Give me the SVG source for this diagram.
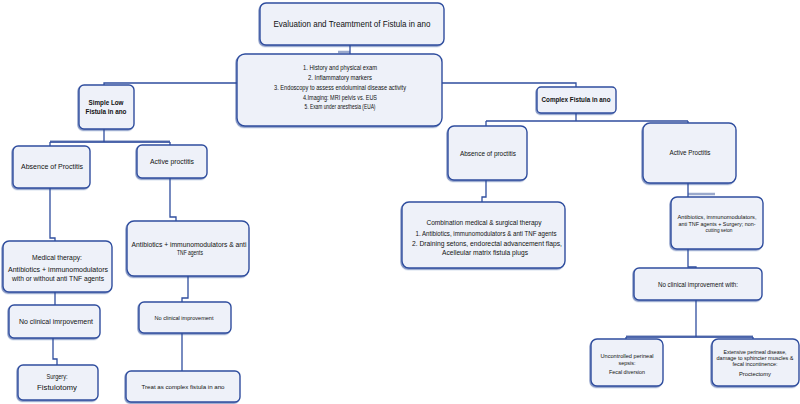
<svg xmlns="http://www.w3.org/2000/svg" width="800" height="404" viewBox="0 0 800 404">
<defs>
<filter id="sh" x="-10%" y="-10%" width="120%" height="130%">
<feDropShadow dx="-1" dy="1.2" stdDeviation="0.7" flood-color="#2b4796" flood-opacity="0.55"/>
</filter>
</defs>
<style>
.box{fill:#eef1f9;stroke:#2f4d9e;stroke-width:1.4;filter:url(#sh)}
.c{fill:none;stroke:#2f4d9e;stroke-width:1.3}
.bar{fill:none;stroke:#9aa9cc;stroke-width:2.5}
text{font-family:"Liberation Sans",Arial,sans-serif;fill:#111111;text-anchor:middle}
.t9{font-size:9px}
.t7{font-size:7.6px}
.t7s{font-size:7px}
.t6{font-size:6.5px}
.t5{font-size:5.9px}
.b{font-weight:bold}
</style>
<rect width="800" height="404" fill="#ffffff"/>
<g id="connectors">
<path class="bar" d="M338,52 H350"/>
<path class="bar" d="M50,141.5 H170"/>
<path class="bar" d="M688,194 H715"/>
<path class="bar" d="M626,336.5 H753"/>
<path class="c" d="M350,45 V54"/>
<path class="c" d="M237,83 H104 V85"/>
<path class="c" d="M442,83 H576 V87"/>
<path class="c" d="M104,129 V142"/>
<path class="c" d="M50,142 H170"/>
<path class="c" d="M50,142 V146"/>
<path class="c" d="M170,142 V145"/>
<path class="c" d="M50,188 V238 H55 V242"/>
<path class="c" d="M55,292 V305"/>
<path class="c" d="M53,338 V359 H57 V365"/>
<path class="c" d="M170,178 V217 H176 V222"/>
<path class="c" d="M188,276 V298 H182 V302"/>
<path class="c" d="M182,333 V371"/>
<path class="c" d="M576,113 V121"/>
<path class="c" d="M486,121 H688"/>
<path class="c" d="M486,121 V126"/>
<path class="c" d="M688,121 V123"/>
<path class="c" d="M486,180 V197 H482 V202"/>
<path class="c" d="M688,183 V197"/>
<path class="c" d="M688,249 V267 H696 V268"/>
<path class="c" d="M696,300 V337"/>
<path class="c" d="M626,337 H753"/>
<path class="c" d="M626,337 V339"/>
<path class="c" d="M753,337 V339"/>
</g>
<g id="title">
<rect class="box" x="260" y="3" width="184" height="42" rx="6"/>
<text class="t9" x="352" y="27" textLength="157" lengthAdjust="spacingAndGlyphs">Evaluation and Treamtment of Fistula in ano</text>
</g>
<g id="evaluation">
<rect class="box" x="237" y="54" width="205" height="72" rx="8"/>
<text class="t6" x="340" y="70" textLength="74" lengthAdjust="spacingAndGlyphs">1. History and physical exam</text>
<text class="t6" x="340" y="80" textLength="64" lengthAdjust="spacingAndGlyphs">2. Inflammatory markers</text>
<text class="t6" x="340" y="90" textLength="132" lengthAdjust="spacingAndGlyphs">3. Endoscopy to assess endoluminal  disease activity</text>
<text class="t6" x="340" y="100" textLength="74" lengthAdjust="spacingAndGlyphs">4.Imaging: MRI pelvis vs. EUS</text>
<text class="t6" x="340" y="109" textLength="71" lengthAdjust="spacingAndGlyphs">5. Exam under anesthesia (EUA)</text>
</g>
<g id="simple-low">
<rect class="box" x="79" y="85" width="55" height="44" rx="5"/>
<text class="t7 b" x="106" y="105" textLength="35" lengthAdjust="spacingAndGlyphs">Simple Low</text>
<text class="t7 b" x="106" y="114" textLength="41" lengthAdjust="spacingAndGlyphs">Fistula in ano</text>
</g>
<g id="complex">
<rect class="box" x="537" y="87" width="79" height="26" rx="4"/>
<text class="t7 b" x="576" y="102" textLength="69" lengthAdjust="spacingAndGlyphs">Complex Fistula in ano</text>
</g>
<g id="absence-left">
<rect class="box" x="13" y="146" width="77" height="42" rx="5"/>
<text class="t7" x="52" y="169" textLength="62" lengthAdjust="spacingAndGlyphs">Absence of Proctitis</text>
</g>
<g id="active-left">
<rect class="box" x="137" y="145" width="70" height="33" rx="5"/>
<text class="t7" x="172" y="164" textLength="44" lengthAdjust="spacingAndGlyphs">Active proctitis</text>
</g>
<g id="medical-therapy">
<rect class="box" x="3" y="241" width="109" height="51" rx="6"/>
<text class="t7" x="57" y="260" textLength="50" lengthAdjust="spacingAndGlyphs">Medical therapy:</text>
<text class="t7" x="58" y="272" textLength="100" lengthAdjust="spacingAndGlyphs">Antibiotics + immunomodulators</text>
<text class="t7" x="58" y="281" textLength="92" lengthAdjust="spacingAndGlyphs">with or without anti TNF agents</text>
</g>
<g id="no-improvement-left">
<rect class="box" x="9" y="305" width="91" height="33" rx="5"/>
<text class="t7" x="56" y="324" textLength="74" lengthAdjust="spacingAndGlyphs">No clinical imrpovement</text>
</g>
<g id="surgery">
<rect class="box" x="18" y="365" width="80" height="35" rx="5"/>
<text class="t7" x="57" y="379" textLength="21" lengthAdjust="spacingAndGlyphs">Surgery:</text>
<text class="t7" x="57" y="390" textLength="40" lengthAdjust="spacingAndGlyphs">Fistulotomy</text>
</g>
<g id="antibiotics-left">
<rect class="box" x="127" y="221" width="122" height="55" rx="7"/>
<text class="t7s" x="189" y="247" textLength="115" lengthAdjust="spacingAndGlyphs">Antibiotics + immunomodulators &amp;  anti</text>
<text class="t7s" x="190" y="255" textLength="26" lengthAdjust="spacingAndGlyphs">TNF agents</text>
</g>
<g id="no-improvement-mid">
<rect class="box" x="139" y="302" width="92" height="31" rx="5"/>
<text class="t5" x="184" y="320" textLength="59" lengthAdjust="spacingAndGlyphs">No clinical improvement</text>
</g>
<g id="treat-complex">
<rect class="box" x="126" y="371" width="114" height="31" rx="5"/>
<text class="t5" x="183" y="389" textLength="83" lengthAdjust="spacingAndGlyphs">Treat as complex fistula in ano</text>
</g>
<g id="absence-right">
<rect class="box" x="448" y="126" width="79" height="54" rx="6"/>
<text class="t6" x="488" y="156" textLength="56" lengthAdjust="spacingAndGlyphs">Absence of proctitis</text>
</g>
<g id="combination">
<rect class="box" x="402" y="202" width="163" height="66" rx="7"/>
<text class="t6" x="484" y="225" textLength="115" lengthAdjust="spacingAndGlyphs">Combination medical &amp; surgical therapy</text>
<text class="t6" x="486" y="236" textLength="141" lengthAdjust="spacingAndGlyphs">1. Antibiotics, immunomodulators &amp; anti TNF agents</text>
<text class="t6" x="487" y="246" textLength="150" lengthAdjust="spacingAndGlyphs">2. Draining setons, endorectal advancement flaps,</text>
<text class="t6" x="485" y="255" textLength="86" lengthAdjust="spacingAndGlyphs">Acelleular matrix fistula plugs</text>
</g>
<g id="active-right">
<rect class="box" x="643" y="123" width="93" height="60" rx="7"/>
<text class="t6" x="690" y="155" textLength="41" lengthAdjust="spacingAndGlyphs">Active Proctitis</text>
</g>
<g id="antibiotics-right">
<rect class="box" x="671" y="197" width="92" height="52" rx="6"/>
<text class="t5" x="717" y="219" textLength="79" lengthAdjust="spacingAndGlyphs">Antibiotics, immunomodulators,</text>
<text class="t5" x="717" y="225.5" textLength="77" lengthAdjust="spacingAndGlyphs">anti TNF agents  + Surgery; non-</text>
<text class="t5" x="719" y="232" textLength="27" lengthAdjust="spacingAndGlyphs">cutting seton</text>
</g>
<g id="no-improvement-right">
<rect class="box" x="634" y="268" width="128" height="32" rx="5"/>
<text class="t6" x="698" y="287" textLength="80" lengthAdjust="spacingAndGlyphs">No clinical improvement with:</text>
</g>
<g id="uncontrolled-sepsis">
<rect class="box" x="591" y="339" width="72" height="47" rx="6"/>
<text class="t5" x="627" y="358" textLength="53" lengthAdjust="spacingAndGlyphs">Uncontrolled perineal</text>
<text class="t5" x="627" y="365" textLength="17" lengthAdjust="spacingAndGlyphs">sepsis:</text>
<text class="t5" x="627" y="374" textLength="36" lengthAdjust="spacingAndGlyphs">Fecal diversion</text>
</g>
<g id="extensive-disease">
<rect class="box" x="712" y="339" width="87" height="47" rx="6"/>
<text class="t5" x="755" y="354" textLength="63" lengthAdjust="spacingAndGlyphs">Extensive perineal disease,</text>
<text class="t5" x="755" y="360" textLength="77" lengthAdjust="spacingAndGlyphs">damage to sphincter  muscles &amp;</text>
<text class="t5" x="755" y="366" textLength="45" lengthAdjust="spacingAndGlyphs">fecal incontinence:</text>
<text class="t5" x="755" y="376" textLength="32" lengthAdjust="spacingAndGlyphs">Proctectomy</text>
</g>
</svg>
